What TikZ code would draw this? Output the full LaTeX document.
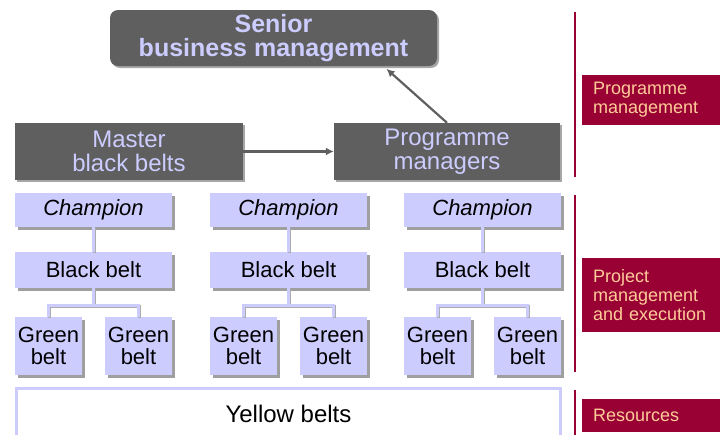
\documentclass[tikz,border=0pt]{standalone}
\usepackage{fontspec}
\setmainfont{Liberation Sans}
\usepackage{tikz}
\usetikzlibrary{positioning, calc, shapes, arrows.meta, shadows}

\definecolor{lav}{HTML}{CCCCFF}
\definecolor{dgray}{HTML}{5F5F5F}
\definecolor{wine}{HTML}{990033}
\definecolor{peach}{HTML}{FFCC99}

\begin{document}
\begin{tikzpicture}[x=1pt, y=-1pt,
		mgrbox/.style={fill=dgray, text=lav, align=center, inner sep=0pt,
			font=\fontsize{24}{24}\selectfont,
			drop shadow={shadow xshift=2pt, shadow yshift=-2pt, fill=gray!70, opacity=1}},
		beltbox/.style={fill=lav, text=black, align=center, inner sep=0pt,
			font=\fontsize{22}{22}\selectfont,
			drop shadow={shadow xshift=2.5pt, shadow yshift=-2.5pt, fill=gray!75, opacity=1}},
		levelbox/.style={fill=wine, text=peach, align=left, inner xsep=11pt, inner ysep=0pt,
			text width=116pt, font=\fontsize{18}{19}\selectfont},
		link/.style={draw=lav, line width=3pt,
			preaction={draw=gray!65, line width=3pt, transform canvas={xshift=1pt, yshift=-1pt}}},
		arr/.style={draw=dgray, line width=2.2pt, -{Latex[length=8pt, width=8pt]}},
		rule/.style={draw=wine, line width=2pt}]
			\clip (0, 0) rectangle (727, 434);
			
			\node[mgrbox, drop shadow={opacity=0}, rounded corners=8pt, minimum width=327pt, minimum height=56pt,
				font=\bfseries\fontsize{25}{24}\selectfont] (senior) at (273.5, 38) {Senior\\business management};
			\node[mgrbox, minimum width=228pt, minimum height=57pt] (master) at (129, 151.5) {Master\\black belts};
			\node[mgrbox, minimum width=226pt, minimum height=57pt] (progmgr) at (447, 151.5) {Programme\\managers};
			
			\draw[arr] (master.east) -- (progmgr.west);
			\draw[arr, shorten >=4pt] (progmgr.north) -- ([xshift=110pt]senior.south);
			
			% first column
			\node[beltbox, minimum width=157pt, minimum height=34pt] (champA) at (93.5, 210) {\itshape Champion};
			\node[beltbox, minimum width=157pt, minimum height=36pt] (blackA) at (93.5, 270) {Black belt};
			\node[beltbox, minimum width=67pt, minimum height=58pt] (greenA1) at (48.5, 346) {Green\\belt};
			\node[beltbox, minimum width=67pt, minimum height=58pt] (greenA2) at (138.5, 346) {Green\\belt};
			
			% second column
			\node[beltbox, minimum width=157pt, minimum height=34pt] (champB) at (288.5, 210) {\itshape Champion};
			\node[beltbox, minimum width=157pt, minimum height=36pt] (blackB) at (288.5, 270) {Black belt};
			\node[beltbox, minimum width=67pt, minimum height=58pt] (greenB1) at (243.5, 346) {Green\\belt};
			\node[beltbox, minimum width=67pt, minimum height=58pt] (greenB2) at (333.5, 346) {Green\\belt};
			
			% third column
			\node[beltbox, minimum width=157pt, minimum height=34pt] (champC) at (482.5, 210) {\itshape Champion};
			\node[beltbox, minimum width=157pt, minimum height=36pt] (blackC) at (482.5, 270) {Black belt};
			\node[beltbox, minimum width=67pt, minimum height=58pt] (greenC1) at (437.5, 346) {Green\\belt};
			\node[beltbox, minimum width=67pt, minimum height=58pt] (greenC2) at (527.5, 346) {Green\\belt};
			
			\draw[link] (champA.south) -- (blackA.north);
			\draw[link] (blackA.south) -- ++(0, 18);
			\draw[link] (greenA1.north) -- ++(0, -11) -| (greenA2.north);
			\draw[link] (champB.south) -- (blackB.north);
			\draw[link] (blackB.south) -- ++(0, 18);
			\draw[link] (greenB1.north) -- ++(0, -11) -| (greenB2.north);
			\draw[link] (champC.south) -- (blackC.north);
			\draw[link] (blackC.south) -- ++(0, 18);
			\draw[link] (greenC1.north) -- ++(0, -11) -| (greenC2.north);
			
			\node[draw=lav, line width=3pt, fill=white, minimum width=544pt, minimum height=52pt,
				font=\fontsize{24}{24}\selectfont] (yellow) at (288.5, 414) {Yellow belts};
			
			% levels on the right
			\coordinate (ruleAtop) at (575, 12);
			\coordinate (ruleAbot) at (575, 177);
			\coordinate (ruleBtop) at (575, 195);
			\coordinate (ruleBbot) at (575, 372);
			\coordinate (ruleCtop) at (575, 390);
			\coordinate (ruleCbot) at (575, 440);
			\draw[rule] (ruleAtop) -- (ruleAbot);
			\draw[rule] (ruleBtop) -- (ruleBbot);
			\draw[rule] (ruleCtop) -- (ruleCbot);
			
			\node[levelbox, minimum height=50pt] (progmgmt) at (651, 100) {Programme\\management};
			\node[levelbox, minimum height=74pt] (projmgmt) at (651, 295) {Project\\management\\and execution};
			\node[levelbox, minimum height=33pt] (resources) at (651, 415.5) {Resources};
		\end{tikzpicture}
\end{document}
